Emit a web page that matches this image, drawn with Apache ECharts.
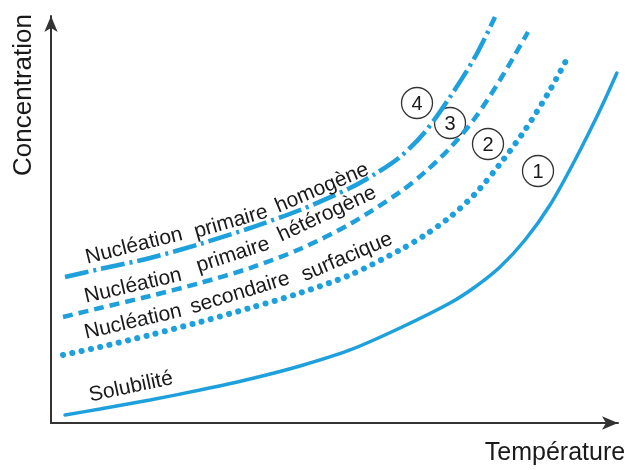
<!DOCTYPE html>
<html>
<head>
<meta charset="utf-8">
<script src="https://cdn.jsdelivr.net/npm/echarts@6/dist/echarts.min.js"></script>
<style>html,body{margin:0;padding:0;background:#fff;}#c{width:627px;height:470px;}</style>
</head>
<body>
<div id="c"></div>
<script>
// Curve values (temperature, concentration)
const solubilite = [[2.47,1.97],[8.64,3.44],[17.46,5.65],[26.28,8.11],[35.1,10.81],[43.92,14.0],[52.73,17.94],[61.55,23.34],[70.37,29.48],[74.78,33.42],[79.19,38.33],[83.6,44.96],[88.01,53.56],[92.42,64.62],[96.83,76.9],[99.8,86.0]];
const secondaireSurfacique = [[2.12,16.71],[8.64,18.67],[17.46,21.62],[26.28,24.82],[35.1,28.26],[43.92,31.94],[52.73,36.36],[61.55,42.51],[65.96,46.19],[70.37,50.61],[74.78,56.27],[79.19,63.64],[83.6,71.99],[88.01,81.82],[91.18,89.93]];
const primaireHeterogene = [[2.12,26.04],[8.64,28.26],[17.46,31.2],[26.28,34.4],[35.1,38.08],[43.92,42.75],[52.73,48.89],[61.55,56.76],[65.96,61.67],[70.37,67.57],[74.78,74.94],[79.19,84.28],[84.13,96.07]];
const primaireHomogene = [[2.47,35.87],[8.64,37.84],[17.46,40.54],[26.28,43.98],[35.1,47.91],[43.92,52.33],[52.73,57.74],[57.14,61.18],[61.55,65.36],[65.96,71.5],[70.37,80.1],[74.78,89.93],[78.31,99.75]];
const axisTitles = {x: 'Température', y: 'Concentration'};
const curveLabels = {
  homogene: ['Nucléation', 'primaire', 'homogène'],
  heterogene: ['Nucléation', 'primaire', 'hétérogène'],
  surfacique: ['Nucléation', 'secondaire', 'surfacique'],
  solubilite: ['Solubilité']
};
const curveNumbers = ['4', '3', '2', '1'];

const BLUE = '#1ea0dc';
const FONT = '"Liberation Sans", Arial, Helvetica, sans-serif';
const chart = echarts.init(document.getElementById('c'));

function word(txt, x, y, deg, size) {
  return {type: 'text', x: x, y: y, rotation: deg * Math.PI / 180, z: 10,
    style: {text: txt, x: 0, y: 0, fill: '#1a1a1a', font: (size || 21) + 'px ' + FONT, textAlign: 'center', textVerticalAlign: 'middle'}};
}
function circled(num, x, y) {
  return {type: 'group', x: x, y: y, z: 20, children: [
    {type: 'circle', shape: {cx: 0, cy: 0, r: 15.5}, style: {fill: '#fff', stroke: '#333', lineWidth: 1.3}},
    {type: 'text', style: {text: num, x: 0, y: 1, fill: '#1a1a1a', font: '20px ' + FONT, textAlign: 'center', textVerticalAlign: 'middle'}}
  ]};
}

function line(name, data, width, type, cap) {
  return {name: name, type: 'line', data: data, smooth: 0.3, showSymbol: false, clip: false,
    lineStyle: {color: BLUE, width: width, type: type, cap: cap || 'butt'}, z: 3};
}

chart.setOption({
  animation: false,
  backgroundColor: '#fff',
  grid: {left: 51, right: 9, top: 16, bottom: 47},
  xAxis: {type: 'value', min: 0, max: 100,
    axisLine: {show: true, onZero: false, symbol: ['none', 'arrow'], symbolSize: [10, 16], lineStyle: {color: '#333', width: 2}},
    axisTick: {show: false}, axisLabel: {show: false}, splitLine: {show: false}},
  yAxis: {type: 'value', min: 0, max: 100,
    axisLine: {show: true, onZero: false, symbol: ['none', 'arrow'], symbolSize: [10, 16], lineStyle: {color: '#333', width: 2}},
    axisTick: {show: false}, axisLabel: {show: false}, splitLine: {show: false}},
  series: [
    line('Solubilité', solubilite, 3.5, 'solid', 'round'),
    line('Nucléation secondaire surfacique', secondaireSurfacique, 6, [0.1, 9.4], 'round'),
    line('Nucléation primaire hétérogène', primaireHeterogene, 4.5, [10, 6]),
    line('Nucléation primaire homogène', primaireHomogene, 4.5, [24, 5, 3, 5])
  ],
  graphic: [
    word(axisTitles.y, 24, 95, 90, 26),
    word(axisTitles.x, 555, 453, 0, 25),
    word(curveLabels.homogene[0], 134, 246, 14),
    word(curveLabels.homogene[1], 231, 222, 16),
    word(curveLabels.homogene[2], 322, 188, 23),
    word(curveLabels.heterogene[0], 133, 286, 13),
    word(curveLabels.heterogene[1], 233, 255, 18),
    word(curveLabels.heterogene[2], 327, 214, 25),
    word(curveLabels.surfacique[0], 133, 322, 13),
    word(curveLabels.surfacique[1], 240, 293, 17),
    word(curveLabels.surfacique[2], 347, 257, 23),
    word(curveLabels.solubilite[0], 131, 387, 12),
    circled(curveNumbers[0], 417, 103),
    circled(curveNumbers[1], 450, 123),
    circled(curveNumbers[2], 488, 144),
    circled(curveNumbers[3], 538, 171)
  ]
});
</script>
</body>
</html>
